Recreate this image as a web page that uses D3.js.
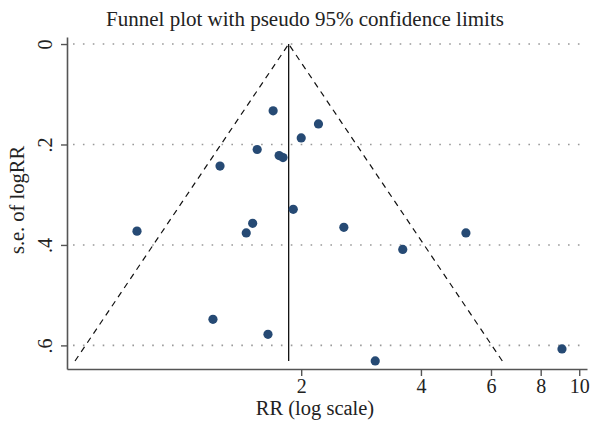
<!DOCTYPE html>
<meta charset="utf-8">
<style>
    body { margin: 0; background: #fff; }
    text { font-family: "Liberation Serif", "DejaVu Serif", serif; fill: #222; }
</style>
<body>
<script src="https://d3js.org/d3.v7.min.js"></script>
<script>
    // study data
    let rr = [1.70, 2.21, 2.00, 1.55, 1.76, 1.80, 1.25, 1.91, 0.773, 1.51, 1.455, 2.56, 5.19, 3.60, 1.20, 1.65, 3.07, 9.05];
    let se = [0.133, 0.159, 0.187, 0.210, 0.222, 0.226, 0.243, 0.329, 0.3725, 0.357, 0.376, 0.365, 0.376, 0.409, 0.548, 0.578, 0.631, 0.607];
    let pooledRR = 1.86;
    let xTicks = [2, 4, 6, 8, 10];
    let yTicks = [0, 0.2, 0.4, 0.6];
    let yTickLabels = ["0", ".2", ".4", ".6"];

    let width = 590, height = 421;
    let plotLeft = 67, plotRight = 587, plotTop = 37, plotBottom = 369;

    let svg = d3.select("body").append("svg")
        .attr("width", width)
        .attr("height", height);

    let x = d3.scaleLog()
        .domain([0.5155, 10.46])
        .range([plotLeft, plotRight]);

    let y = d3.scaleLinear()
        .domain([-0.014, 0.647])
        .range([plotTop, plotBottom]);

    // dotted grid lines
    svg.append("g").selectAll("line")
        .data(yTicks)
        .join("line")
            .attr("x1", plotLeft + 6)
            .attr("x2", plotRight)
            .attr("y1", d => y(d))
            .attr("y2", d => y(d))
            .attr("stroke", "#999")
            .attr("stroke-width", 1.6)
            .attr("stroke-dasharray", "1.6,8.3");

    // funnel
    let maxSE = d3.max(se);
    let lnP = Math.log(pooledRR);
    svg.append("line")
        .attr("x1", x(pooledRR)).attr("x2", x(pooledRR))
        .attr("y1", y(0)).attr("y2", y(maxSE))
        .attr("stroke", "#111").attr("stroke-width", 1.3);

    let funnel = d3.line()
        .x(d => x(Math.exp(lnP + d[0] * 1.96 * d[1])))
        .y(d => y(d[1]));
    [-1, 1].forEach(function(s){
        svg.append("path")
            .attr("d", funnel([[s, maxSE], [s, 0]]))
            .attr("fill", "none")
            .attr("stroke", "#111")
            .attr("stroke-width", 1.2)
            .attr("stroke-dasharray", "6,5");
    });

    // points
    svg.append("g").selectAll("circle")
        .data(rr.map((d, i) => ({rr: d, se: se[i]})))
        .join("circle")
            .attr("cx", d => x(d.rr))
            .attr("cy", d => y(d.se))
            .attr("r", 4.6)
            .attr("fill", "#264a74");

    // axes
    let xAxis = svg.append("g")
        .attr("transform", "translate(0," + plotBottom + ")")
        .call(d3.axisBottom(x).tickValues(xTicks).tickFormat(d3.format("d")).tickSize(7).tickSizeOuter(0).tickPadding(3));
    xAxis.select(".domain").attr("stroke", "#555").attr("stroke-width", 1.6);
    xAxis.selectAll(".tick line").attr("stroke", "#555").attr("stroke-width", 1.4);
    xAxis.selectAll(".tick text")
        .attr("font-family", "Liberation Serif, serif")
        .attr("font-size", 20)
        .attr("fill", "#222");

    let yAxis = svg.append("g")
        .attr("transform", "translate(" + plotLeft + ",0)")
        .call(d3.axisLeft(y).tickValues(yTicks).tickFormat((d, i) => yTickLabels[i]).tickSize(6).tickSizeOuter(0));
    yAxis.select(".domain").attr("stroke", "#555").attr("stroke-width", 1.6);
    yAxis.selectAll(".tick line").attr("stroke", "#555").attr("stroke-width", 1.4);
    yAxis.selectAll(".tick text")
        .attr("font-family", "Liberation Serif, serif")
        .attr("font-size", 20)
        .attr("fill", "#222")
        .attr("text-anchor", "middle")
        .attr("x", 0).attr("dy", 0)
        .attr("transform", "translate(-15,0) rotate(-90)");

    // titles
    svg.append("text")
        .attr("x", 305).attr("y", 26)
        .attr("text-anchor", "middle")
        .attr("font-size", 21)
        .text("Funnel plot with pseudo 95% confidence limits");

    svg.append("text")
        .attr("x", 315).attr("y", 415)
        .attr("text-anchor", "middle")
        .attr("font-size", 20.5)
        .text("RR (log scale)");

    svg.append("text")
        .attr("transform", "translate(24,200) rotate(-90)")
        .attr("text-anchor", "middle")
        .attr("font-size", 20.5)
        .text("s.e. of logRR");
</script>
</body>
